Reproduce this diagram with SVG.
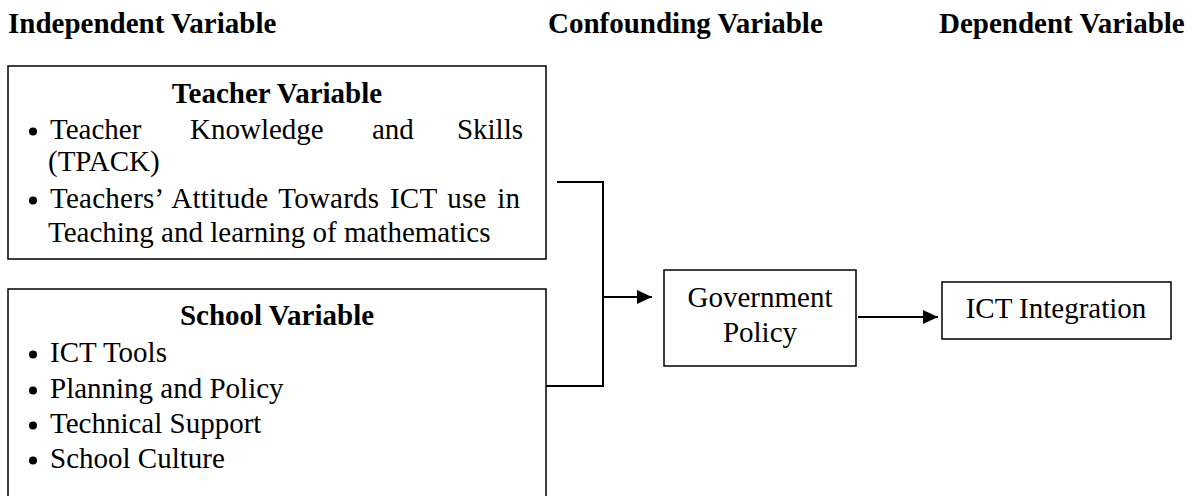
<svg xmlns="http://www.w3.org/2000/svg" width="1201" height="496" viewBox="0 0 1201 496">
  <style>
    text { font-family: "Liberation Serif", "Times New Roman", serif; font-size: 29px; fill: #000; }
    .hd { font-weight: bold; }
    .box { fill: #fff; stroke: #000; stroke-width: 1.5; }
    .wire { fill: none; stroke: #000; stroke-width: 2; }
    .dot { fill: #000; }
  </style>
  <defs>
    <marker id="arrow" viewBox="0 0 15 14" refX="15" refY="7" markerWidth="15" markerHeight="14" markerUnits="userSpaceOnUse" orient="auto">
      <path d="M0,0 L15,7 L0,14 z" fill="#000"/>
    </marker>
  </defs>
  <rect width="1201" height="496" fill="#fff"/>

  <!-- column headings -->
  <g id="headings">
    <text class="hd" x="8" y="33">Independent Variable</text>
    <text class="hd" x="548" y="33">Confounding Variable</text>
    <text class="hd" x="939" y="33">Dependent Variable</text>
  </g>

  <!-- independent: teacher factors -->
  <g id="teacher-variable">
    <rect class="box" x="8" y="66" width="538" height="193"/>
    <text class="hd" x="277" y="103" text-anchor="middle">Teacher Variable</text>
    <circle class="dot" cx="33" cy="131.5" r="4"/>
    <text x="50" y="139">Teacher</text>
    <text x="190" y="139">Knowledge</text>
    <text x="372" y="139">and</text>
    <text x="523" y="139" text-anchor="end">Skills</text>
    <text x="48" y="171">(TPACK)</text>
    <circle class="dot" cx="33" cy="200.5" r="4"/>
    <text x="50" y="208" textLength="470" lengthAdjust="spacing" word-spacing="3">Teachers’ Attitude Towards ICT use in</text>
    <text x="48" y="242">Teaching and learning of mathematics</text>
  </g>

  <!-- independent: school factors -->
  <g id="school-variable">
    <path class="box" d="M8,500 V289 H546 V500"/>
    <text class="hd" x="277" y="325" text-anchor="middle">School Variable</text>
    <circle class="dot" cx="33" cy="354.5" r="4"/>
    <text x="50" y="362">ICT Tools</text>
    <circle class="dot" cx="33" cy="390.5" r="4"/>
    <text x="50" y="398">Planning and Policy</text>
    <circle class="dot" cx="33" cy="425.5" r="4"/>
    <text x="50" y="433">Technical Support</text>
    <circle class="dot" cx="33" cy="460.5" r="4"/>
    <text x="50" y="468">School Culture</text>
  </g>

  <!-- confounding -->
  <g id="government-policy">
    <rect class="box" x="664" y="270" width="192" height="96"/>
    <text x="760" y="307" text-anchor="middle">Government</text>
    <text x="760" y="342" text-anchor="middle">Policy</text>
  </g>

  <!-- dependent -->
  <g id="ict-integration">
    <rect class="box" x="942" y="282" width="229" height="57"/>
    <text x="1056" y="318" text-anchor="middle">ICT Integration</text>
  </g>

  <!-- connectors -->
  <g id="connectors">
    <path class="wire" d="M557,182 H603 V386 H546"/>
    <path class="wire" d="M603,297 H652" marker-end="url(#arrow)"/>
    <path class="wire" d="M858,317 H938" marker-end="url(#arrow)"/>
  </g>
</svg>
